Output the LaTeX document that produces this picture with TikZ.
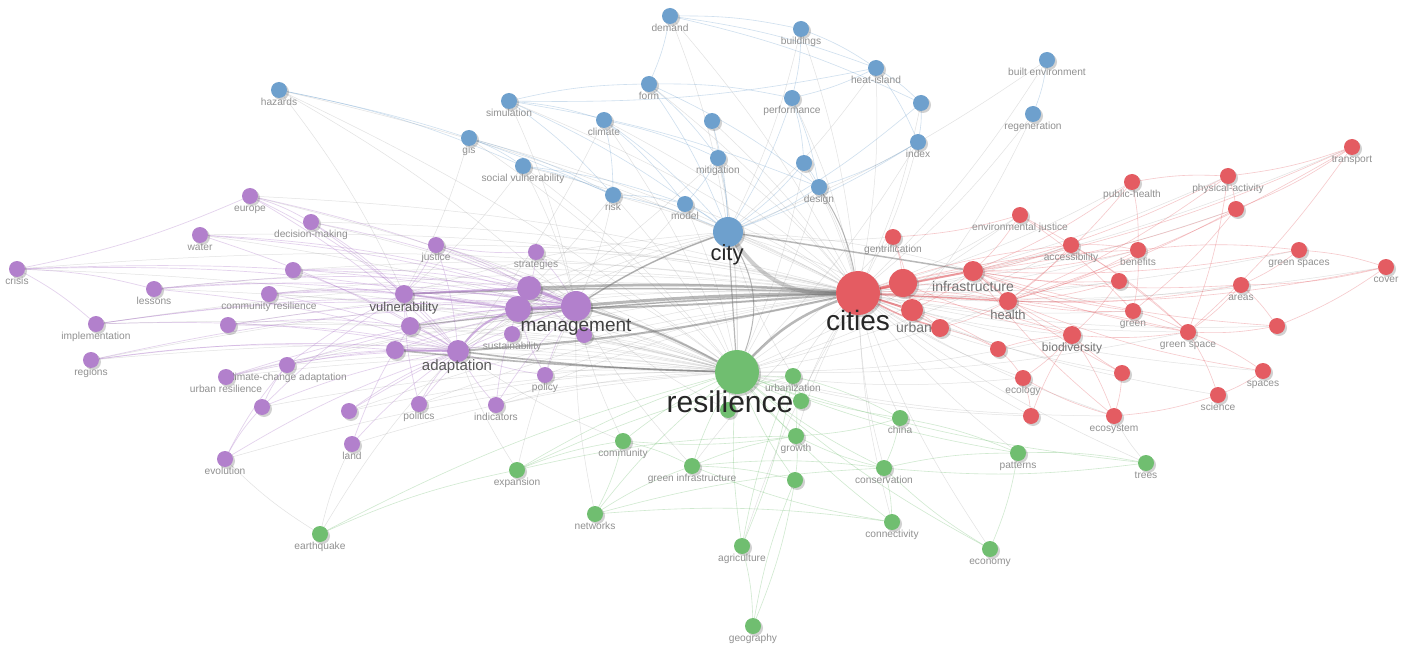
\documentclass[tikz,border=0pt]{standalone}
\usepackage{fontspec}
\setmainfont{Liberation Sans}
\usetikzlibrary{shadows,backgrounds}
\definecolor{cb}{RGB}{110,160,205}
\definecolor{cr}{RGB}{228,92,98}
\definecolor{cg}{RGB}{112,190,112}
\definecolor{cp}{RGB}{178,128,204}
\definecolor{lbc}{RGB}{145,145,145}
\newcommand\vnode[5]{\node[#4,label={[lb]below:#5}] (#1) at (#2,#3) {};}
\tikzset{
  kw/.style={circle,inner sep=0pt,minimum size=16pt,draw=none,
    drop shadow={shadow xshift=2pt,shadow yshift=-2pt,opacity=0.18,fill=black}},
  kb/.style={kw,fill=cb},
  kr/.style={kw,fill=cr},
  kg/.style={kw,fill=cg},
  kp/.style={kw,fill=cp},
  lb/.style={inner sep=0pt,text=lbc,font=\fontsize{10.2}{11}\selectfont,text height=7pt,text depth=2pt},
  big/.style={inner sep=0pt,text=black!85},
  eg/.style={draw=black!45,opacity=0.25,line width=0.5pt},
  eb/.style={draw=cb,opacity=0.33,line width=0.6pt},
  er/.style={draw=cr,opacity=0.33,line width=0.6pt},
  egr/.style={draw=cg,opacity=0.33,line width=0.6pt},
  ep/.style={draw=cp,opacity=0.35,line width=0.7pt},
  hv/.style={draw=black!55,opacity=0.5},
}
\begin{document}
\begin{tikzpicture}[x=1pt,y=-1pt,label distance=0.5pt]
\useasboundingbox (0,0) rectangle (1417,658);
% ---------- blue ----------
\vnode{demand}{670}{16}{kb}{demand}
\vnode{buildings}{801}{29}{kb}{buildings}
\vnode{heatisland}{876}{68}{kb}{heat-island}
\vnode{builtenv}{1047}{60}{kb}{built environment}
\vnode{hazards}{279}{90}{kb}{hazards}
\vnode{simulation}{509}{101}{kb}{simulation}
\vnode{form}{649}{84}{kb}{form}
\vnode{performance}{792}{98}{kb}{performance}
\vnode{b921}{921}{103}{kb}{}
\vnode{climate}{604}{120}{kb}{climate}
\vnode{b712}{712}{121}{kb}{}
\vnode{regeneration}{1033}{114}{kb}{regeneration}
\vnode{gis}{469}{138}{kb}{gis}
\vnode{index}{918}{142}{kb}{index}
\vnode{socvul}{523}{166}{kb}{social vulnerability}
\vnode{mitigation}{718}{158}{kb}{mitigation}
\vnode{b804}{804}{163}{kb}{}
\vnode{design}{819}{187}{kb}{design}
\vnode{risk}{613}{195}{kb}{risk}
\vnode{model}{685}{204}{kb}{model}
\vnode{city}{728}{232}{kb,minimum size=30pt}{}
% ---------- red ----------
\vnode{transport}{1352}{147}{kr}{transport}
\vnode{pubhealth}{1132}{182}{kr}{public-health}
\vnode{physact}{1228}{176}{kr}{physical-activity}
\vnode{r1236}{1236}{209}{kr}{}
\vnode{envjust}{1020}{215}{kr}{environmental justice}
\vnode{gentrif}{893}{237}{kr}{gentrification}
\vnode{access}{1071}{245}{kr}{accessibility}
\vnode{benefits}{1138}{250}{kr}{benefits}
\vnode{greenspaces}{1299}{250}{kr}{green spaces}
\vnode{cover}{1386}{267}{kr}{cover}
\vnode{r1119}{1119}{281}{kr}{}
\vnode{areas}{1241}{285}{kr}{areas}
\vnode{green}{1133}{311}{kr}{green}
\vnode{r1276}{1277}{326}{kr}{}
\vnode{greenspace}{1188}{332}{kr}{green space}
\vnode{biodiv}{1072}{335}{kr,minimum size=18pt}{}
\vnode{spaces}{1263}{371}{kr}{spaces}
\vnode{r1122}{1122}{373}{kr}{}
\vnode{science}{1218}{395}{kr}{science}
\vnode{ecosystem}{1114}{416}{kr}{ecosystem}
\vnode{cities}{858}{293}{kr,minimum size=44pt}{}
\vnode{r903}{903}{283}{kr,minimum size=28pt}{}
\vnode{infra}{973}{271}{kr,minimum size=20pt}{}
\vnode{health}{1008}{301}{kr,minimum size=18pt}{}
\vnode{urban}{912}{310}{kr,minimum size=22pt}{}
\vnode{r940}{940}{328}{kr,minimum size=18pt}{}
\vnode{r997}{998}{349}{kr}{}
\vnode{ecology}{1023}{378}{kr}{ecology}
\vnode{r1031}{1031}{416}{kr}{}
% ---------- green ----------
\vnode{urbanization}{793}{376}{kg}{urbanization}
\vnode{g800}{801}{401}{kg}{}
\vnode{g728}{728}{410}{kg}{}
\vnode{growth}{796}{436}{kg}{growth}
\vnode{china}{900}{418}{kg}{china}
\vnode{community}{623}{441}{kg}{community}
\vnode{greeninf}{692}{466}{kg}{green infrastructure}
\vnode{g796}{795}{480}{kg}{}
\vnode{expansion}{517}{470}{kg}{expansion}
\vnode{conservation}{884}{468}{kg}{conservation}
\vnode{patterns}{1018}{453}{kg}{patterns}
\vnode{trees}{1146}{463}{kg}{trees}
\vnode{networks}{595}{514}{kg}{networks}
\vnode{connectivity}{892}{522}{kg}{connectivity}
\vnode{agriculture}{742}{546}{kg}{agriculture}
\vnode{economy}{990}{549}{kg}{economy}
\vnode{earthquake}{320}{534}{kg}{earthquake}
\vnode{geography}{753}{626}{kg}{geography}
\vnode{resilience}{737}{372}{kg,minimum size=44pt}{}
% ---------- purple ----------
\vnode{europe}{250}{196}{kp}{europe}
\vnode{decision}{311}{222}{kp}{decision-making}
\vnode{water}{200}{235}{kp}{water}
\vnode{crisis}{17}{269}{kp}{crisis}
\vnode{p294}{293}{270}{kp}{}
\vnode{justice}{436}{245}{kp}{justice}
\vnode{strategies}{536}{252}{kp}{strategies}
\vnode{lessons}{154}{289}{kp}{lessons}
\vnode{commres}{269}{294}{kp}{community resilience}
\vnode{p530}{529}{288}{kp,minimum size=24pt}{}
\vnode{p519}{518}{309}{kp,minimum size=26pt}{}
\vnode{vulnerability}{404}{294}{kp,minimum size=18pt}{}
\vnode{p410}{410}{326}{kp,minimum size=18pt}{}
\vnode{p228}{228}{325}{kp}{}
\vnode{implementation}{96}{324}{kp}{implementation}
\vnode{sustain}{512}{334}{kp}{sustainability}
\vnode{p584}{584}{335}{kp}{}
\vnode{p395}{395}{350}{kp,minimum size=18pt}{}
\vnode{adaptation}{458}{351}{kp,minimum size=22pt}{}
\vnode{regions}{91}{360}{kp}{regions}
\vnode{ccadapt}{287}{365}{kp}{climate-change adaptation}
\vnode{urbanres}{226}{377}{kp}{urban resilience}
\vnode{policy}{545}{375}{kp}{policy}
\vnode{p262}{262}{407}{kp}{}
\vnode{p350}{349}{411}{kp}{}
\vnode{politics}{419}{404}{kp}{politics}
\vnode{indicators}{496}{405}{kp}{indicators}
\vnode{evolution}{225}{459}{kp}{evolution}
\vnode{land}{352}{444}{kp}{land}
\vnode{management}{576}{306}{kp,minimum size=30pt}{}
% ---------- big labels ----------
\node[big,font=\fontsize{30}{30}\selectfont] (resilience-l) at (730,402) {resilience};
\node[big,font=\fontsize{28}{28}\selectfont] (cities-l) at (858,320) {cities};
\node[big,font=\fontsize{22}{22}\selectfont] (city-l) at (727,255) {city};
\node[big,text=black!75,font=\fontsize{19}{19}\selectfont] (management-l) at (576,327) {management};
\node[big,text=black!65,font=\fontsize{15}{15}\selectfont] (adaptation-l) at (457,367) {adaptation};
\node[big,text=black!65,font=\fontsize{13}{13}\selectfont] (vulnerability-l) at (404,308) {vulnerability};
\node[big,text=black!55,font=\fontsize{14}{14}\selectfont] (infra-l) at (973,286) {infrastructure};
\node[big,text=black!55,font=\fontsize{14}{14}\selectfont] (urban-l) at (914,327) {urban};
\node[big,text=black!55,font=\fontsize{13}{13}\selectfont] (health-l) at (1008,315) {health};
\node[big,text=black!55,font=\fontsize{12}{12}\selectfont] (biodiv-l) at (1072,348) {biodiversity};
% ---------- edges ----------
\begin{pgfonlayer}{background}
\fill[white] (0,0) rectangle (1417,658);
\foreach \a/\b in {demand/city,demand/cities,buildings/city,buildings/cities,heatisland/cities,heatisland/city,
  builtenv/cities,builtenv/city,regeneration/cities,regeneration/urban,hazards/resilience,hazards/vulnerability,
  hazards/management,simulation/cities,simulation/management,form/cities,performance/cities,b921/cities,
  climate/resilience,climate/adaptation,b712/resilience,b712/cities,gis/vulnerability,gis/resilience,
  index/cities,index/resilience,socvul/resilience,socvul/vulnerability,socvul/management,mitigation/adaptation,
  mitigation/cities,b804/cities,b804/resilience,design/cities,design/resilience,risk/resilience,risk/management,
  risk/adaptation,model/resilience,model/management,city/infra,city/urban,
  transport/cities,pubhealth/cities,physact/cities,r1236/cities,envjust/cities,envjust/resilience,gentrif/city,
  gentrif/resilience,access/cities,access/resilience,benefits/cities,greenspaces/cities,cover/cities,
  r1119/cities,areas/cities,green/cities,r1276/cities,greenspace/cities,greenspace/resilience,biodiv/cities,
  biodiv/resilience,spaces/cities,r1122/cities,science/cities,ecosystem/cities,ecosystem/resilience,
  r997/cities,ecology/cities,ecology/resilience,r1031/cities,r1031/resilience,health/resilience,infra/resilience,
  urbanization/cities,urbanization/city,g800/cities,g728/management,growth/cities,china/cities,community/management,
  community/adaptation,greeninf/cities,greeninf/management,expansion/adaptation,expansion/management,
  conservation/cities,patterns/cities,trees/cities,trees/ecosystem,connectivity/cities,economy/cities,
  earthquake/land,earthquake/evolution,earthquake/adaptation,networks/management,agriculture/cities,
  europe/cities,europe/resilience,decision/cities,decision/resilience,water/cities,water/resilience,crisis/resilience,
  crisis/cities,p294/cities,justice/cities,justice/resilience,strategies/cities,strategies/resilience,lessons/cities,
  lessons/resilience,commres/resilience,commres/cities,implementation/cities,implementation/resilience,p228/cities,
  p228/resilience,p410/cities,p410/resilience,sustain/cities,sustain/resilience,p584/cities,p584/resilience,
  regions/resilience,regions/cities,ccadapt/resilience,ccadapt/cities,urbanres/resilience,urbanres/cities,policy/resilience,
  policy/cities,p262/resilience,p350/resilience,p350/cities,politics/resilience,politics/cities,indicators/resilience,
  indicators/cities,evolution/resilience,land/resilience,vulnerability/city,adaptation/city,p530/city,p519/city,
  management/city,p395/cities,p395/resilience,vulnerability/resilience,p530/resilience,p519/resilience,
  hazards/cities,gis/cities,socvul/cities,risk/cities,model/cities,climate/cities,mitigation/resilience}
  \draw[eg] (\a) to[bend left=6] (\b);
\foreach \a/\b in {demand/form,demand/b921,demand/heatisland,demand/buildings,buildings/heatisland,buildings/performance,
  heatisland/performance,heatisland/simulation,heatisland/index,heatisland/b921,builtenv/regeneration,simulation/climate,
  simulation/design,simulation/risk,simulation/form,form/design,form/performance,form/mitigation,performance/design,
  performance/b804,b921/index,b921/city,climate/risk,climate/mitigation,climate/model,climate/city,b712/city,
  gis/socvul,gis/risk,index/design,index/city,socvul/risk,socvul/model,mitigation/city,mitigation/model,
  b804/city,b804/design,design/city,risk/model,risk/city,model/city,hazards/risk,hazards/socvul,simulation/city,
  performance/city,form/city}
  \draw[eb] (\a) to[bend left=6] (\b);
\foreach \a/\b in {transport/physact,transport/r1236,transport/health,transport/infra,transport/greenspace,
  pubhealth/physact,pubhealth/health,pubhealth/benefits,pubhealth/infra,physact/health,physact/r1236,physact/greenspace,
  physact/infra,r1236/infra,r1236/health,r1236/green,envjust/gentrif,envjust/green,envjust/greenspace,envjust/infra,
  gentrif/urban,gentrif/r903,access/health,access/greenspace,access/benefits,access/infra,benefits/infra,benefits/green,
  benefits/greenspaces,benefits/health,greenspaces/cover,greenspaces/areas,greenspaces/infra,cover/areas,cover/r1276,
  cover/health,r1119/infra,r1119/biodiv,r1119/health,areas/infra,areas/greenspace,areas/r1276,areas/health,green/infra,
  green/greenspace,green/health,r1276/greenspace,r1276/infra,greenspace/spaces,greenspace/biodiv,greenspace/science,
  greenspace/infra,biodiv/infra,biodiv/ecosystem,biodiv/ecology,biodiv/r903,spaces/science,spaces/health,
  r1122/biodiv,r1122/ecosystem,r1122/infra,science/ecosystem,ecosystem/ecology,ecosystem/infra,r903/infra,r903/urban,
  r903/health,infra/health,infra/urban,health/r940,urban/r940,urban/r997,r940/r997,r997/ecology,r997/biodiv,
  ecology/r1031,r1031/biodiv,cities/health,cities/r940,cities/biodiv,cities/greenspace,cities/benefits,cities/access}
  \draw[er] (\a) to[bend left=6] (\b);
\foreach \a/\b in {urbanization/growth,urbanization/china,urbanization/g800,urbanization/agriculture,g800/resilience,
  g728/resilience,growth/resilience,growth/g796,china/resilience,china/growth,china/conservation,community/resilience,
  community/greeninf,community/networks,greeninf/resilience,greeninf/g796,greeninf/growth,greeninf/conservation,
  g796/resilience,g796/geography,expansion/resilience,expansion/urbanization,expansion/community,expansion/growth,
  conservation/resilience,conservation/connectivity,conservation/patterns,conservation/growth,patterns/resilience,
  patterns/economy,patterns/trees,trees/resilience,trees/conservation,networks/resilience,networks/connectivity,
  networks/greeninf,networks/conservation,connectivity/resilience,connectivity/greeninf,agriculture/resilience,
  agriculture/geography,agriculture/urbanization,economy/resilience,economy/conservation,earthquake/resilience,
  earthquake/expansion,geography/g796,urbanization/resilience,growth/community,china/patterns}
  \draw[egr] (\a) to[bend left=6] (\b);
\foreach \a/\b in {europe/adaptation,europe/management,europe/decision,europe/crisis,europe/vulnerability,
  decision/adaptation,decision/management,decision/vulnerability,water/management,water/adaptation,water/p530,
  crisis/management,crisis/lessons,crisis/implementation,crisis/p519,p294/management,p294/adaptation,p294/p530,
  justice/management,justice/adaptation,justice/p530,justice/vulnerability,strategies/management,strategies/p530,
  strategies/justice,lessons/management,lessons/adaptation,lessons/p530,lessons/vulnerability,commres/management,
  commres/adaptation,commres/p519,commres/vulnerability,implementation/management,implementation/adaptation,
  implementation/p519,p228/management,p228/adaptation,p228/p410,p410/management,p410/p519,p410/adaptation,
  sustain/management,sustain/adaptation,p584/management,p584/p530,regions/adaptation,regions/management,
  regions/p395,ccadapt/adaptation,ccadapt/management,ccadapt/vulnerability,urbanres/adaptation,urbanres/management,
  urbanres/p395,policy/adaptation,policy/management,policy/p519,p262/adaptation,p262/vulnerability,p262/ccadapt,
  p350/adaptation,p350/management,politics/adaptation,politics/p519,politics/vulnerability,indicators/management,
  indicators/adaptation,indicators/p519,evolution/adaptation,evolution/p262,evolution/ccadapt,land/adaptation,
  land/p410,vulnerability/management,vulnerability/adaptation,p395/adaptation,p395/management,p410/vulnerability}
  \draw[ep] (\a) to[bend left=6] (\b);
% heavy links
\draw[hv,line width=3pt] (management) to[bend left=2] (cities);
\draw[hv,line width=2.5pt] (p530) to[bend left=3] (cities);
\draw[hv,line width=2pt] (p519) to[bend right=2] (cities);
\draw[hv,line width=4pt,opacity=0.35] (city) to[bend right=28] (cities);
\draw[hv,line width=1.2pt] (city) -- (resilience);
\draw[hv,line width=1.5pt] (city) to[bend right=6] (management);
\draw[hv,line width=1.5pt] (city) -- (infra);
\draw[hv,line width=2.5pt] (resilience) to[bend left=12] (cities);
\draw[hv,line width=2pt] (management) to[bend left=6] (resilience);
\draw[hv,line width=2pt] (adaptation) to[bend right=4] (cities);
\draw[hv,line width=1.6pt] (adaptation) to[bend right=3] (resilience);
\draw[hv,line width=1.6pt] (vulnerability) to[bend left=2] (cities);
\draw[hv,line width=1.6pt] (p395) to[bend right=2] (resilience);
\draw[hv,line width=1.2pt] (p410) to[bend left=2] (cities);
\draw[hv,line width=1pt] (city) to[bend left=25] (resilience);
\draw[hv,line width=1pt] (design) to[bend left=10] (cities);
\draw[draw=cr,opacity=0.7,line width=2.5pt] (cities) -- (r903);
\draw[draw=cr,opacity=0.6,line width=2pt] (cities) -- (infra);
\draw[draw=cr,opacity=0.6,line width=2pt] (cities) -- (urban);
\draw[draw=cr,opacity=0.55,line width=1.5pt] (cities) -- (health);
\draw[draw=cr,opacity=0.5,line width=1.5pt] (cities) to[bend right=6] (r940);
\draw[draw=cp,opacity=0.7,line width=2.5pt] (management) -- (p530);
\draw[draw=cp,opacity=0.7,line width=2.5pt] (management) -- (p519);
\draw[draw=cp,opacity=0.6,line width=2pt] (adaptation) to[bend left=15] (p519);
\draw[draw=cp,opacity=0.6,line width=2pt] (vulnerability) -- (p530);
\draw[draw=cp,opacity=0.6,line width=2pt] (p395) -- (adaptation);
\draw[draw=cp,opacity=0.55,line width=1.5pt] (vulnerability) -- (p519);
\end{pgfonlayer}
\end{tikzpicture}
\end{document}
